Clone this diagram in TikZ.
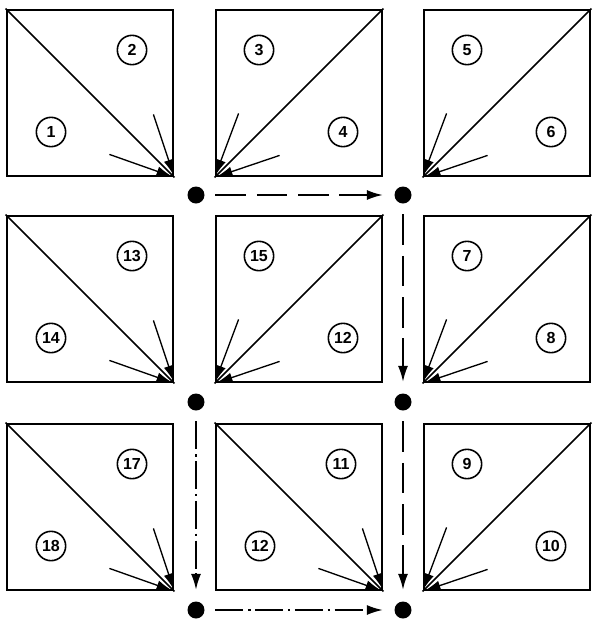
\documentclass[tikz,border=0pt]{standalone}
\usepackage{fontspec}
\setmainfont{Liberation Sans}
\usepackage{tikz}
\usetikzlibrary{arrows.meta, calc}

\begin{document}
\begin{tikzpicture}[x=0.75pt, y=-0.75pt, >={Latex[length=12pt, width=7.5pt]},
    panel/.style={draw, line width=2.1pt, minimum size=124.5pt, inner sep=0pt},
    diag/.style={line width=1.3pt},
    feed/.style={->, line width=1pt, shorten >=1.5pt},
    numtag/.style={draw, circle, line width=1.2pt, minimum size=22pt, inner sep=0pt, font=\bfseries\fontsize{12}{12}\selectfont},
    joint/.style={circle, fill, minimum size=12.75pt, inner sep=0pt},
    flowdash/.style={->, line width=1.5pt, dash pattern=on 23pt off 8pt, shorten <=8pt, shorten >=8.5pt},
    flowdashdot/.style={->, line width=1.5pt, dash pattern=on 21pt off 3.5pt on 1.8pt off 3.5pt, shorten <=8pt, shorten >=8.5pt}]
    \useasboundingbox ({0},{0}) rectangle ({593},{619});

    \node[panel] (tl) at ({90},{93}) {};
    \node[panel] (tm) at ({299},{93}) {};
    \node[panel] (tr) at ({507},{93}) {};
    \node[panel] (ml) at ({90},{299}) {};
    \node[panel] (mm) at ({299},{299}) {};
    \node[panel] (mr) at ({507},{299}) {};
    \node[panel] (bl) at ({90},{507}) {};
    \node[panel] (bm) at ({299},{507}) {};
    \node[panel] (br) at ({507},{507}) {};

    \draw[diag] (tl.north west) -- (tl.south east);
    \draw[feed] ([shift={(-21,-63)}]tl.south east) -- (tl.south east);
    \draw[feed] ([shift={(-65,-23)}]tl.south east) -- (tl.south east);
    \node[numtag] (tl-a) at ({132},{50}) {2};
    \node[numtag] (tl-b) at ({51},{132}) {1};

    \draw[diag] (tm.south west) -- (tm.north east);
    \draw[feed] ([shift={(24,-64)}]tm.south west) -- (tm.south west);
    \draw[feed] ([shift={(65,-22)}]tm.south west) -- (tm.south west);
    \node[numtag] (tm-a) at ({259},{50}) {3};
    \node[numtag] (tm-b) at ({343},{132}) {4};

    \draw[diag] (tr.south west) -- (tr.north east);
    \draw[feed] ([shift={(24,-64)}]tr.south west) -- (tr.south west);
    \draw[feed] ([shift={(65,-22)}]tr.south west) -- (tr.south west);
    \node[numtag] (tr-a) at ({467},{50}) {5};
    \node[numtag] (tr-b) at ({551},{132}) {6};

    \draw[diag] (ml.north west) -- (ml.south east);
    \draw[feed] ([shift={(-21,-63)}]ml.south east) -- (ml.south east);
    \draw[feed] ([shift={(-65,-23)}]ml.south east) -- (ml.south east);
    \node[numtag] (ml-a) at ({132},{256}) {13};
    \node[numtag] (ml-b) at ({51},{338}) {14};

    \draw[diag] (mm.south west) -- (mm.north east);
    \draw[feed] ([shift={(24,-64)}]mm.south west) -- (mm.south west);
    \draw[feed] ([shift={(65,-22)}]mm.south west) -- (mm.south west);
    \node[numtag] (mm-a) at ({259},{256}) {15};
    \node[numtag] (mm-b) at ({343},{338}) {12};

    \draw[diag] (mr.south west) -- (mr.north east);
    \draw[feed] ([shift={(24,-64)}]mr.south west) -- (mr.south west);
    \draw[feed] ([shift={(65,-22)}]mr.south west) -- (mr.south west);
    \node[numtag] (mr-a) at ({467},{256}) {7};
    \node[numtag] (mr-b) at ({551},{338}) {8};

    \draw[diag] (bl.north west) -- (bl.south east);
    \draw[feed] ([shift={(-21,-63)}]bl.south east) -- (bl.south east);
    \draw[feed] ([shift={(-65,-23)}]bl.south east) -- (bl.south east);
    \node[numtag] (bl-a) at ({132},{464}) {17};
    \node[numtag] (bl-b) at ({51},{546}) {18};

    \draw[diag] (bm.north west) -- (bm.south east);
    \draw[feed] ([shift={(-21,-63)}]bm.south east) -- (bm.south east);
    \draw[feed] ([shift={(-65,-23)}]bm.south east) -- (bm.south east);
    \node[numtag] (bm-a) at ({341},{464}) {11};
    \node[numtag] (bm-b) at ({260},{546}) {12};

    \draw[diag] (br.south west) -- (br.north east);
    \draw[feed] ([shift={(24,-64)}]br.south west) -- (br.south west);
    \draw[feed] ([shift={(65,-22)}]br.south west) -- (br.south west);
    \node[numtag] (br-a) at ({467},{464}) {9};
    \node[numtag] (br-b) at ({551},{546}) {10};

    \node[joint] (j1) at ({196},{195}) {};
    \node[joint] (j2) at ({403},{195}) {};
    \node[joint] (j3) at ({196},{402}) {};
    \node[joint] (j4) at ({403},{402}) {};
    \node[joint] (j5) at ({196},{610}) {};
    \node[joint] (j6) at ({403},{610}) {};

    \draw[flowdash] (j1) -- (j2);
    \draw[flowdash] (j2) -- (j4);
    \draw[flowdash] (j4) -- (j6);
    \draw[flowdashdot] (j3) -- (j5);
    \draw[flowdashdot] (j5) -- (j6);
\end{tikzpicture}
\end{document}
